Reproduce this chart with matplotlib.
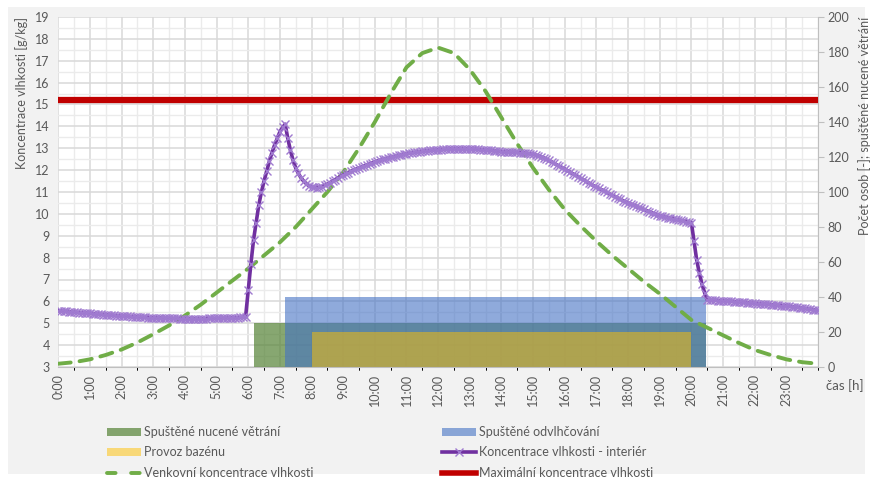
import matplotlib.pyplot as plt
import numpy as np
from matplotlib.lines import Line2D
from matplotlib.patches import Patch, Rectangle
from matplotlib.ticker import MultipleLocator

plt.rcParams["font.family"] = ["Lato", "DejaVu Sans"]

# koncentrace vlhkosti - interiér [g/kg], krok 5 min, 0:00 .. 24:00
interier = [
    5.57, 5.56, 5.55, 5.54, 5.53, 5.52, 5.51, 5.50, 5.49, 5.48, 5.47, 5.46,
    5.45, 5.44, 5.43, 5.42, 5.41, 5.40, 5.39, 5.38, 5.37, 5.36, 5.35, 5.34,
    5.33, 5.32, 5.32, 5.31, 5.30, 5.29, 5.29, 5.28, 5.27, 5.27, 5.26, 5.26,
    5.25, 5.25, 5.24, 5.24, 5.23, 5.23, 5.23, 5.22, 5.22, 5.22, 5.21, 5.21,
    5.21, 5.21, 5.21, 5.21, 5.21, 5.21, 5.21, 5.21, 5.21, 5.22, 5.22, 5.22,
    5.22, 5.23, 5.23, 5.23, 5.24, 5.24, 5.25, 5.25, 5.26, 5.27, 5.28, 5.30,
    6.50, 7.70, 8.80, 9.60, 10.40, 11.00, 11.50, 11.95, 12.40, 12.80, 13.15, 13.45,
    13.75, 13.95, 14.10, 13.45, 12.90, 12.45, 12.10, 11.85, 11.65, 11.50, 11.38, 11.28,
    11.23, 11.21, 11.20, 11.22, 11.25, 11.30, 11.36, 11.43, 11.50, 11.57, 11.64, 11.71,
    11.78, 11.84, 11.89, 11.95, 12.00, 12.05, 12.10, 12.15, 12.20, 12.25, 12.30, 12.34,
    12.38, 12.42, 12.45, 12.49, 12.52, 12.55, 12.58, 12.61, 12.64, 12.67, 12.70, 12.72,
    12.75, 12.77, 12.79, 12.81, 12.83, 12.84, 12.86, 12.88, 12.89, 12.90, 12.91, 12.92,
    12.93, 12.94, 12.95, 12.96, 12.96, 12.97, 12.97, 12.97, 12.98, 12.98, 12.97, 12.97,
    12.97, 12.96, 12.96, 12.95, 12.94, 12.93, 12.92, 12.91, 12.90, 12.88, 12.87, 12.86,
    12.85, 12.84, 12.83, 12.83, 12.82, 12.82, 12.81, 12.80, 12.79, 12.78, 12.76, 12.74,
    12.72, 12.69, 12.65, 12.61, 12.56, 12.50, 12.44, 12.38, 12.31, 12.24, 12.17, 12.11,
    12.05, 11.98, 11.91, 11.84, 11.77, 11.70, 11.63, 11.56, 11.49, 11.42, 11.35, 11.28,
    11.22, 11.16, 11.10, 11.04, 10.98, 10.91, 10.85, 10.79, 10.73, 10.67, 10.61, 10.55,
    10.50, 10.45, 10.40, 10.35, 10.30, 10.25, 10.20, 10.15, 10.10, 10.05, 10.00, 9.96,
    9.92, 9.89, 9.86, 9.83, 9.80, 9.78, 9.75, 9.72, 9.70, 9.67, 9.65, 9.62,
    9.60, 8.75, 7.90, 7.30, 6.80, 6.40, 6.08, 6.06, 6.05, 6.05, 6.04, 6.04,
    6.03, 6.02, 6.01, 6.00, 5.99, 5.98, 5.97, 5.96, 5.95, 5.94, 5.93, 5.92,
    5.91, 5.90, 5.89, 5.88, 5.87, 5.86, 5.85, 5.84, 5.83, 5.82, 5.81, 5.80,
    5.79, 5.77, 5.76, 5.74, 5.73, 5.71, 5.69, 5.68, 5.66, 5.64, 5.62, 5.61,
    5.60,
]
cas_interier = np.arange(len(interier)) * 5 / 60

# venkovní koncentrace vlhkosti [g/kg], krok 30 min
venkovni = [
    3.15, 3.22, 3.35, 3.55, 3.80, 4.12, 4.50, 4.90, 5.35, 5.85,
    6.40, 6.95, 7.50, 8.10, 8.70, 9.40, 10.20, 11.00, 11.90, 13.00,
    14.20, 15.50, 16.70, 17.35, 17.60, 17.35, 16.60, 15.60, 14.40, 13.20,
    12.10, 11.10, 10.20, 9.45, 8.75, 8.10, 7.50, 6.90, 6.35, 5.75,
    5.15, 4.80, 4.45, 4.10, 3.78, 3.55, 3.35, 3.22, 3.15,
]
cas_venkovni = np.arange(len(venkovni)) * 0.5

max_koncentrace = 15.2

# provozní intervaly [h] a hodnoty na pravé ose
provoz_nazvy = ["Spuštěné nucené větrání", "Spuštěné odvlhčování", "Provoz bazénu"]
provoz_od = [6 + 10 / 60, 7 + 10 / 60, 8.0]
provoz_do = [20.45, 20.45, 20.0]
provoz_hodnota = [25, 40, 20]

hodiny = list(range(24))
hodiny_popisky = [f"{h}:00" for h in hodiny]

text_color = "#595959"
provoz_barvy = ["#548235", "#4472C4", "#FFC000"]
provoz_alpha = [0.7, 0.6, 0.5]

fig = plt.figure(figsize=(8.73, 4.79), dpi=100)
fig.patches.append(
    Rectangle((8 / 873, 1 - 474 / 479), 857 / 873, 467 / 479,
              transform=fig.transFigure, facecolor="#F2F2F2",
              edgecolor="none", zorder=-10)
)

rect = [58.3 / 873, 1 - 367 / 479, (818 - 58.3) / 873, 350 / 479]

# mřížka vespod
axg = fig.add_axes(rect, zorder=0)
axg.set_xlim(0, 24)
axg.set_ylim(3, 19)
axg.set_facecolor("white")
axg.xaxis.set_major_locator(MultipleLocator(1))
axg.xaxis.set_minor_locator(MultipleLocator(0.5))
axg.yaxis.set_major_locator(MultipleLocator(1))
axg.yaxis.set_minor_locator(MultipleLocator(0.5))
axg.grid(which="minor", color="#EBEBEB", linewidth=1.0)
axg.grid(which="major", color="#D9D9D9", linewidth=1.1)
axg.tick_params(which="both", length=0, labelleft=False, labelbottom=False)
for s in axg.spines.values():
    s.set_visible(False)

# provozní plochy na pravé ose
ax2 = fig.add_axes(rect, zorder=1, sharex=axg)
ax2.patch.set_visible(False)
for od, do, h, c, a in zip(provoz_od, provoz_do, provoz_hodnota, provoz_barvy, provoz_alpha):
    ax2.bar(od, h, width=do - od, align="edge", color=c, alpha=a, linewidth=0)
ax2.set_ylim(0, 200)
ax2.yaxis.set_major_locator(MultipleLocator(20))
ax2.yaxis.tick_right()
ax2.yaxis.set_label_position("right")
ax2.tick_params(axis="y", length=4, color="#BFBFBF", pad=3, labelsize=9, labelcolor=text_color)
ax2.tick_params(axis="x", length=0, labelbottom=False)
ax2.set_ylabel("Počet osob [-]; spuštěné nucené větrání", loc="top",
               fontsize=9, color=text_color, labelpad=6)
for k in ["left", "top", "bottom"]:
    ax2.spines[k].set_visible(False)
ax2.spines["right"].set_color("#BFBFBF")

# křivky vlhkosti na levé ose
purple_marker = dict(marker="x", markersize=6, markeredgewidth=1.0,
                     markeredgecolor="#A07BD0")
ax = fig.add_axes(rect, zorder=2, sharex=axg)
ax.patch.set_visible(False)
ax.set_ylim(3, 19)
ax.yaxis.set_major_locator(MultipleLocator(1))
ax.axhline(max_koncentrace, color="#C00000", linewidth=4.5)
ax.plot(cas_venkovni, venkovni, color="#70AD47", linewidth=2.8,
        dashes=(3.2, 2.3), dash_capstyle="round")
ax.plot(cas_interier, interier, color="#7030A0", linewidth=2.6)
ax.plot(cas_interier, interier, linestyle="none", **purple_marker)
ax.set_xticks(hodiny)
ax.set_xticklabels(hodiny_popisky, rotation=90)
ax.set_xlim(0, 24)
ax.tick_params(axis="x", length=0, pad=5, labelsize=9, labelcolor=text_color)
ax.tick_params(axis="y", length=0, pad=6, labelsize=9, labelcolor=text_color)
ax.set_ylabel("Koncentrace vlhkosti [g/kg]", loc="top", fontsize=9,
              color=text_color, labelpad=5)
for k in ["left", "top", "right"]:
    ax.spines[k].set_visible(False)
ax.spines["bottom"].set_color("#BFBFBF")

fig.text(826 / 873, 1 - 386 / 479, "čas [h]", fontsize=9.5, color=text_color,
         ha="left", va="center")

handles = [
    Patch(facecolor=provoz_barvy[0], alpha=provoz_alpha[0], linewidth=0),
    Patch(facecolor=provoz_barvy[2], alpha=provoz_alpha[2], linewidth=0),
    Line2D([], [], color="#70AD47", linewidth=2.8, dashes=(2.2, 4.0),
           dash_capstyle="round"),
    Patch(facecolor=provoz_barvy[1], alpha=provoz_alpha[1], linewidth=0),
    Line2D([], [], color="#7030A0", linewidth=2.6, **purple_marker),
    Line2D([], [], color="#C00000", linewidth=4.0),
]
labels = [
    provoz_nazvy[0], provoz_nazvy[2], "Venkovní koncentrace vlhkosti",
    provoz_nazvy[1], "Koncentrace vlhkosti - interiér", "Maximální koncentrace vlhkosti",
]
fig.legend(handles, labels, ncol=2, loc="upper left",
           bbox_to_anchor=(107 / 873, 1 - 426 / 479), frameon=False,
           fontsize=9, labelcolor=text_color, handlelength=2.7,
           handleheight=0.6, handletextpad=0.25, labelspacing=0.68,
           columnspacing=10.3, borderpad=0, borderaxespad=0)

fig.savefig("out.png", dpi=100, facecolor="white")
